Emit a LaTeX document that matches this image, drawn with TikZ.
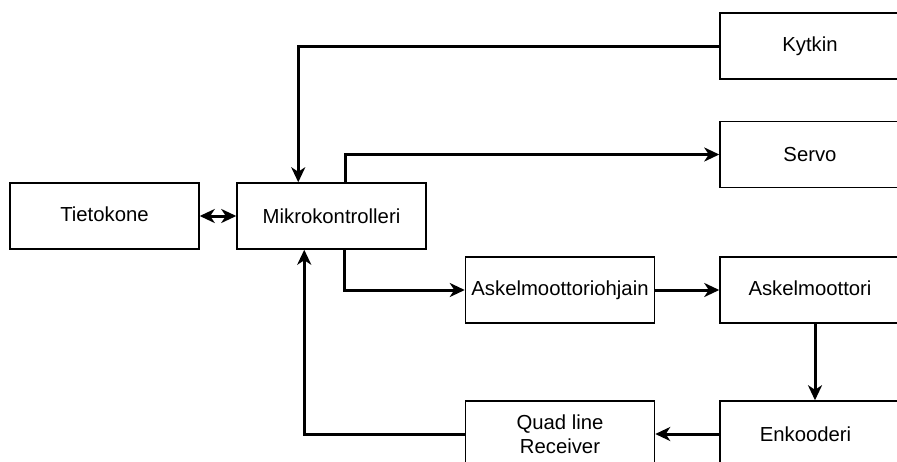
\documentclass[tikz,border=0pt]{standalone}
\usepackage{fontspec}
\setmainfont{Liberation Sans}
\usetikzlibrary{arrows.meta,calc}
\begin{document}
\begin{tikzpicture}[x=1pt,y=-1pt,
  box/.style={draw=black,line width=1.5pt,rectangle,minimum width=189pt,minimum height=66pt,inner sep=0pt,
    font=\fontsize{20.3}{23.5}\selectfont,align=center},
  rbox/.style={box,minimum width=180pt},
  conn/.style={line width=3pt,-{Stealth[length=15pt,width=14pt,inset=4.5pt]}},
  bconn/.style={line width=3pt,{Stealth[length=15pt,width=14pt,inset=4.5pt]}-{Stealth[length=15pt,width=14pt,inset=4.5pt]}}]
\path[use as bounding box,clip] (0,0) rectangle (897,461);
\node[box] (tie) at (104.5,216) {\raisebox{4pt}{Tietokone}};
\node[box] (mik) at (331.5,216) {\raisebox{-2pt}{Mikrokontrolleri}};
\node[rbox] (kyt) at (810,46) {Kytkin};
\node[rbox] (ser) at (810,154.5) {Servo};
\node[box] (aoh) at (560,290) {\raisebox{3pt}{Askelmoottoriohjain}};
\node[rbox] (amo) at (810,290) {\raisebox{4pt}{Askelmoottori}};
\node[box] (qlr) at (560,434) {Quad line\\Receiver};
\node[rbox] (enk) at (810,434) {Enkooderi\hspace*{9pt}};
\coordinate (mtl) at ($(mik.north west)+(62,0)$);
\coordinate (mtr) at ($(mik.north west)+(109,0)$);
\coordinate (mbr) at ($(mik.south west)+(108,0)$);
\coordinate (mbl) at ($(mik.south west)+(68,0)$);
\coordinate (ams) at ($(amo.south)+(5,0)$);
\coordinate (enn) at ($(enk.north)+(5,0)$);
\draw[bconn] (tie.east) -- (mik.west);
\draw[conn] (kyt.west) -| (mtl);
\draw[conn] (mtr) |- (ser.west);
\draw[conn] (mbr) |- (aoh.west);
\draw[conn] (aoh.east) -- (amo.west);
\draw[conn] (ams) -- (enn);
\draw[conn] (enk.west) -- (qlr.east);
\draw[conn] (qlr.west) -| (mbl);
\end{tikzpicture}
\end{document}
